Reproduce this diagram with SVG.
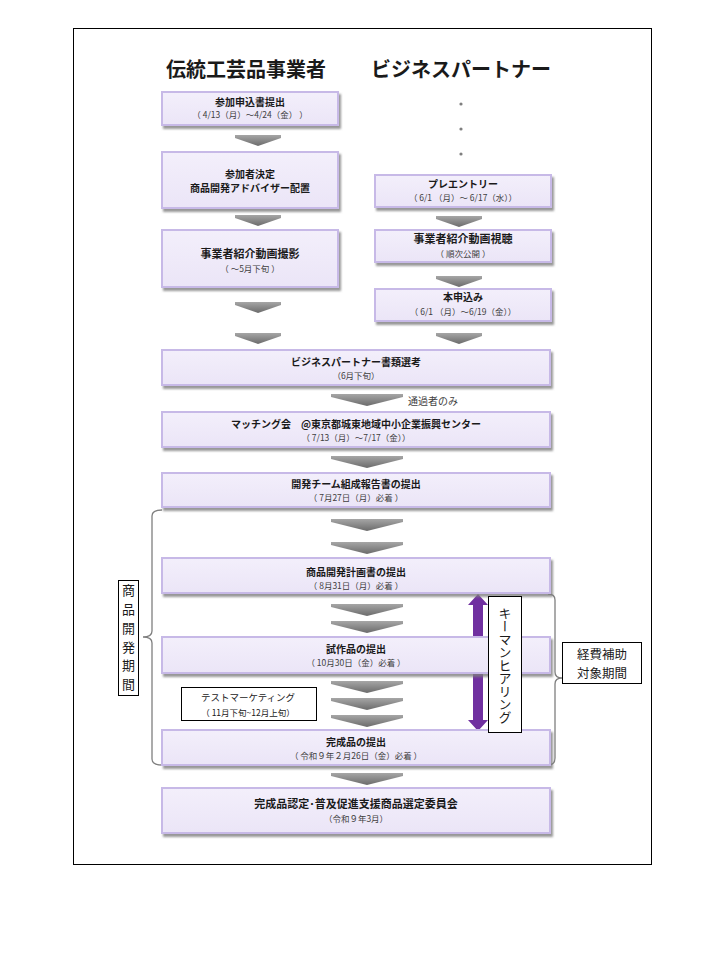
<svg xmlns="http://www.w3.org/2000/svg" xmlns:xlink="http://www.w3.org/1999/xlink" width="720" height="960" viewBox="0 0 720 960">
<style>
text { font-family: "Noto Sans CJK JP", "Noto Sans", sans-serif; }
.box { fill: url(#boxg); stroke: #c7b9e7; stroke-width: 2; filter: url(#sh); }
.t1 { font-weight: bold; font-size: 10px; fill: #1a1a1a; text-anchor: middle; }
.t1l { font-weight: bold; font-size: 11px; fill: #1a1a1a; text-anchor: middle; }
.t2 { font-size: 8.5px; fill: #404040; text-anchor: middle; }
.title { font-weight: bold; font-size: 20px; fill: #1a1a1a; text-anchor: middle; }
.plain { fill: #ffffff; stroke: #000000; stroke-width: 1; }
.lbl { font-size: 13px; fill: #1a1a1a; text-anchor: middle; }
.brace { fill: none; stroke: #7f7f7f; stroke-width: 1.3; }
.note { font-size: 10px; fill: #404040; }
</style>
<defs>
  <linearGradient id="boxg" x1="0" y1="0" x2="0" y2="1">
    <stop offset="0" stop-color="#f3effb"/>
    <stop offset="1" stop-color="#ebe5f7"/>
  </linearGradient>
  <linearGradient id="ag" x1="0" y1="0" x2="0" y2="1">
    <stop offset="0" stop-color="#a6a6a6"/>
    <stop offset="1" stop-color="#6b6b6b"/>
  </linearGradient>
  <filter id="sh" x="-5%" y="-20%" width="115%" height="150%">
    <feDropShadow dx="2" dy="3" stdDeviation="1.2" flood-color="#7f7f7f" flood-opacity="0.8"/>
  </filter>
  <path id="chevN" d="M-23,0 H23 V3 L0,11 L-23,3 Z" fill="url(#ag)"/>
  <path id="chevW" d="M-36,0 H36 V3 L0,12 L-36,3 Z" fill="url(#ag)"/>
</defs>

<rect x="73.5" y="28.5" width="578" height="836" fill="#ffffff" stroke="#000000" stroke-width="1"/>

<g id="titles">
  <text class="title" x="246" y="77">伝統工芸品事業者</text>
  <text class="title" x="461" y="77">ビジネスパートナー</text>
</g>

<g id="dots" fill="#7f7f7f">
  <circle cx="461" cy="104" r="1.6"/>
  <circle cx="461" cy="129" r="1.6"/>
  <circle cx="461" cy="154" r="1.6"/>
</g>

<g id="connectors">
  <use xlink:href="#chevN" x="258" y="135"/>
  <use xlink:href="#chevN" x="258" y="215"/>
  <use xlink:href="#chevN" x="258" y="302"/>
  <use xlink:href="#chevN" x="258" y="333"/>
  <use xlink:href="#chevN" x="459" y="216"/>
  <use xlink:href="#chevN" x="459" y="276"/>
  <use xlink:href="#chevN" x="459" y="333"/>
  <use xlink:href="#chevW" x="367" y="394"/>
  <use xlink:href="#chevW" x="367" y="456"/>
  <use xlink:href="#chevW" x="367" y="519"/>
  <use xlink:href="#chevW" x="367" y="542"/>
  <use xlink:href="#chevW" x="367" y="604"/>
  <use xlink:href="#chevW" x="367" y="621"/>
  <use xlink:href="#chevW" x="367" y="681"/>
  <use xlink:href="#chevW" x="367" y="698"/>
  <use xlink:href="#chevW" x="367" y="715"/>
  <use xlink:href="#chevW" x="367" y="773"/>
  <text class="note" x="408" y="405">通過者のみ</text>
  <path class="brace" d="M162,510 Q152,510 152,516 L152,631 Q152,637 143,637 Q152,637 152,643 L152,759 Q152,765 162,765"/>
  <path class="brace" d="M548,594 Q555,594 555,600 L555,672 Q555,678 562,678 Q555,678 555,684 L555,758 Q555,765 548,765"/>
  <polygon fill="#7030a0" points="478,594 488,605 483,605 483,720 488,720 478,731 468,720 473,720 473,605 468,605"/>
</g>

<g id="n-apply">
  <rect class="box" x="162" y="92" width="176" height="33"/>
  <text class="t1" x="250" y="105.5">参加申込書提出</text>
  <text class="t2" x="250" y="118">（ 4/13（月）～4/24（金） ）</text>
</g>
<g id="n-decide">
  <rect class="box" x="162" y="152" width="176" height="56"/>
  <text class="t1" x="250" y="177.5">参加者決定</text>
  <text class="t1" x="250" y="191.5">商品開発アドバイザー配置</text>
</g>
<g id="n-video">
  <rect class="box" x="162" y="230" width="176" height="57"/>
  <text class="t1l" x="250" y="257.5">事業者紹介動画撮影</text>
  <text class="t2" x="250" y="272">（ ～5月下旬 ）</text>
</g>
<g id="n-preentry">
  <rect class="box" x="375" y="175" width="176" height="32"/>
  <text class="t1" x="463" y="187.5">プレエントリー</text>
  <text class="t2" x="463" y="201">（ 6/1 （月）～ 6/17（水））</text>
</g>
<g id="n-watch">
  <rect class="box" x="375" y="230" width="176" height="32"/>
  <text class="t1l" x="463" y="243">事業者紹介動画視聴</text>
  <text class="t2" x="463" y="256.5">（ 順次公開 ）</text>
</g>
<g id="n-entry">
  <rect class="box" x="375" y="289" width="176" height="32"/>
  <text class="t1" x="463" y="301">本申込み</text>
  <text class="t2" x="463" y="315">（ 6/1 （月）～6/19（金））</text>
</g>
<g id="n-screening">
  <rect class="box" x="162" y="350" width="388" height="35"/>
  <text class="t1" x="356" y="365.5">ビジネスパートナー書類選考</text>
  <text class="t2" x="356" y="379">（6月下旬）</text>
</g>
<g id="n-matching">
  <rect class="box" x="162" y="412" width="388" height="35"/>
  <text class="t1" x="356" y="427.5">マッチング会　@東京都城東地域中小企業振興センター</text>
  <text class="t2" x="356" y="441">（ 7/13（月）～7/17（金））</text>
</g>
<g id="n-team">
  <rect class="box" x="162" y="473" width="388" height="34"/>
  <text class="t1" x="356" y="487.5">開発チーム組成報告書の提出</text>
  <text class="t2" x="356" y="501">（ 7月27日（月）必着 ）</text>
</g>
<g id="n-plan">
  <rect class="box" x="162" y="558" width="388" height="35"/>
  <text class="t1" x="356" y="575.5">商品開発計画書の提出</text>
  <text class="t2" x="356" y="589">（ 8月31日（月）必着 ）</text>
</g>
<g id="n-proto">
  <rect class="box" x="162" y="637" width="388" height="36"/>
  <text class="t1" x="356" y="652.5">試作品の提出</text>
  <text class="t2" x="356" y="666">（ 10月30日（金）必着 ）</text>
</g>
<g id="n-final">
  <rect class="box" x="162" y="730" width="388" height="35"/>
  <text class="t1" x="356" y="745.5">完成品の提出</text>
  <text class="t2" x="356" y="759">（ 令和９年２月26日（金）必着 ）</text>
</g>
<g id="n-committee">
  <rect class="box" x="162" y="788" width="388" height="45"/>
  <text class="t1l" x="356" y="807.5">完成品認定･普及促進支援商品選定委員会</text>
  <text class="t2" x="356" y="822">（令和９年3月）</text>
</g>

<g id="n-testmarketing">
  <rect class="plain" x="181.5" y="687.5" width="135" height="33"/>
  <text class="t2" x="248" y="701" style="font-size:9.5px;fill:#1a1a1a">テストマーケティング</text>
  <text class="t2" x="248" y="715.5" style="fill:#1a1a1a">（ 11月下旬~12月上旬）</text>
</g>

<g id="n-devperiod">
  <rect class="plain" x="118.5" y="580.5" width="20" height="115"/>
  <text class="lbl"><tspan x="128.5" y="595">商</tspan><tspan x="128.5" y="614">品</tspan><tspan x="128.5" y="633">開</tspan><tspan x="128.5" y="652">発</tspan><tspan x="128.5" y="670">期</tspan><tspan x="128.5" y="689">間</tspan></text>
</g>

<g id="n-keyman">
  <rect class="plain" x="488.5" y="596.5" width="33" height="136"/>
  <text class="lbl" x="505" y="665" style="writing-mode: vertical-rl; font-size:13px">キーマンヒアリング</text>
</g>

<g id="n-subsidy">
  <rect class="plain" x="562.5" y="642.5" width="79" height="41"/>
  <text class="lbl" x="602" y="658.5" style="font-size:12.5px">経費補助</text>
  <text class="lbl" x="602" y="677.5" style="font-size:12.5px">対象期間</text>
</g>
</svg>
